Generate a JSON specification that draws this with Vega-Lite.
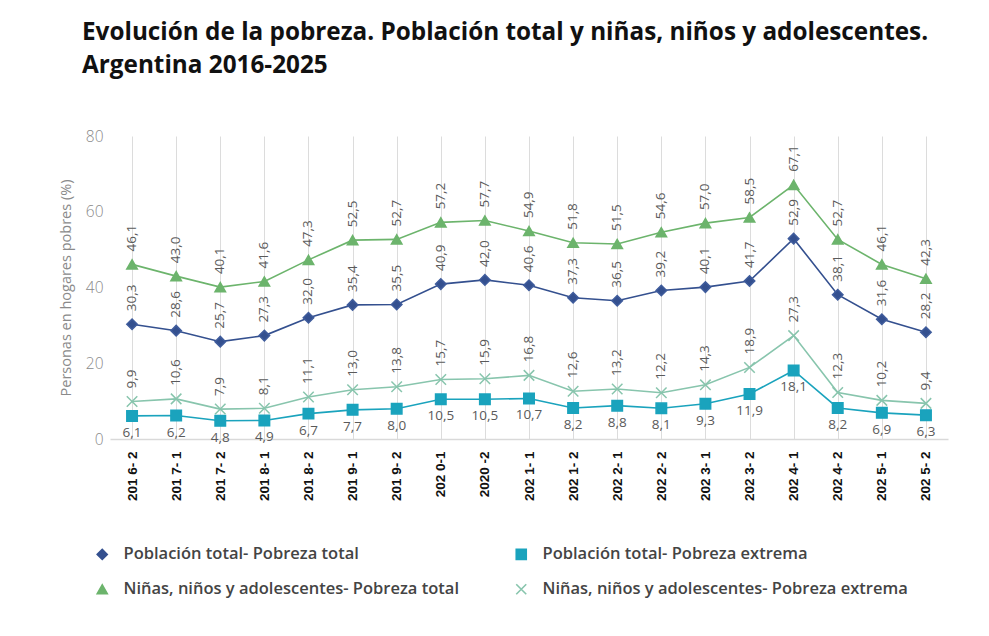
{
  "$schema": "https://vega.github.io/schema/vega-lite/v6.json",
  "width": 838,
  "height": 303,
  "autosize": {"type": "none"},
  "padding": {"left": 110, "top": 136, "right": 41, "bottom": 197},
  "background": "white",
  "title": {
    "text": ["Evolución de la pobreza. Población total y niñas, niños y adolescentes.", "Argentina 2016-2025"],
    "anchor": "start",
    "frame": "group",
    "dx": -28,
    "offset": 51,
    "font": "Open Sans",
    "fontSize": 24.3,
    "fontWeight": "bold",
    "lineHeight": 33,
    "color": "#111111"
  },
  "config": {
    "view": {"stroke": null},
    "locale": {"number": {"decimal": ",", "thousands": ".", "grouping": [3], "currency": ["$", ""]}},
    "legend": {
      "title": null,
      "orient": "none",
      "legendX": -16,
      "legendY": 410,
      "direction": "horizontal",
      "columns": 2,
      "columnPadding": 53,
      "rowPadding": 18,
      "padding": 0,
      "symbolSize": 100,
      "symbolStrokeWidth": 1.6,
      "labelOffset": 13,
      "labelFont": "Open Sans",
      "labelFontSize": 16.5,
      "labelFontWeight": 600,
      "labelColor": "#444444",
      "labelLimit": 500
    }
  },
  "datasets": {
    "pobreza": [
      {"periodo": "201 6- 2", "serie": "Población total- Pobreza total", "valor": 30.3},
      {"periodo": "201 7- 1", "serie": "Población total- Pobreza total", "valor": 28.6},
      {"periodo": "201 7- 2", "serie": "Población total- Pobreza total", "valor": 25.7},
      {"periodo": "201 8- 1", "serie": "Población total- Pobreza total", "valor": 27.3},
      {"periodo": "201 8- 2", "serie": "Población total- Pobreza total", "valor": 32.0},
      {"periodo": "201 9- 1", "serie": "Población total- Pobreza total", "valor": 35.4},
      {"periodo": "201 9- 2", "serie": "Población total- Pobreza total", "valor": 35.5},
      {"periodo": "202 0-1", "serie": "Población total- Pobreza total", "valor": 40.9},
      {"periodo": "2020 -2", "serie": "Población total- Pobreza total", "valor": 42.0},
      {"periodo": "202 1- 1", "serie": "Población total- Pobreza total", "valor": 40.6},
      {"periodo": "202 1- 2", "serie": "Población total- Pobreza total", "valor": 37.3},
      {"periodo": "202 2- 1", "serie": "Población total- Pobreza total", "valor": 36.5},
      {"periodo": "202 2- 2", "serie": "Población total- Pobreza total", "valor": 39.2},
      {"periodo": "202 3- 1", "serie": "Población total- Pobreza total", "valor": 40.1},
      {"periodo": "202 3- 2", "serie": "Población total- Pobreza total", "valor": 41.7},
      {"periodo": "202 4- 1", "serie": "Población total- Pobreza total", "valor": 52.9},
      {"periodo": "202 4- 2", "serie": "Población total- Pobreza total", "valor": 38.1},
      {"periodo": "202 5- 1", "serie": "Población total- Pobreza total", "valor": 31.6},
      {"periodo": "202 5- 2", "serie": "Población total- Pobreza total", "valor": 28.2},
      {"periodo": "201 6- 2", "serie": "Población total- Pobreza extrema", "valor": 6.1},
      {"periodo": "201 7- 1", "serie": "Población total- Pobreza extrema", "valor": 6.2},
      {"periodo": "201 7- 2", "serie": "Población total- Pobreza extrema", "valor": 4.8},
      {"periodo": "201 8- 1", "serie": "Población total- Pobreza extrema", "valor": 4.9},
      {"periodo": "201 8- 2", "serie": "Población total- Pobreza extrema", "valor": 6.7},
      {"periodo": "201 9- 1", "serie": "Población total- Pobreza extrema", "valor": 7.7},
      {"periodo": "201 9- 2", "serie": "Población total- Pobreza extrema", "valor": 8.0},
      {"periodo": "202 0-1", "serie": "Población total- Pobreza extrema", "valor": 10.5},
      {"periodo": "2020 -2", "serie": "Población total- Pobreza extrema", "valor": 10.5},
      {"periodo": "202 1- 1", "serie": "Población total- Pobreza extrema", "valor": 10.7},
      {"periodo": "202 1- 2", "serie": "Población total- Pobreza extrema", "valor": 8.2},
      {"periodo": "202 2- 1", "serie": "Población total- Pobreza extrema", "valor": 8.8},
      {"periodo": "202 2- 2", "serie": "Población total- Pobreza extrema", "valor": 8.1},
      {"periodo": "202 3- 1", "serie": "Población total- Pobreza extrema", "valor": 9.3},
      {"periodo": "202 3- 2", "serie": "Población total- Pobreza extrema", "valor": 11.9},
      {"periodo": "202 4- 1", "serie": "Población total- Pobreza extrema", "valor": 18.1},
      {"periodo": "202 4- 2", "serie": "Población total- Pobreza extrema", "valor": 8.2},
      {"periodo": "202 5- 1", "serie": "Población total- Pobreza extrema", "valor": 6.9},
      {"periodo": "202 5- 2", "serie": "Población total- Pobreza extrema", "valor": 6.3},
      {"periodo": "201 6- 2", "serie": "Niñas, niños y adolescentes- Pobreza total", "valor": 46.1},
      {"periodo": "201 7- 1", "serie": "Niñas, niños y adolescentes- Pobreza total", "valor": 43.0},
      {"periodo": "201 7- 2", "serie": "Niñas, niños y adolescentes- Pobreza total", "valor": 40.1},
      {"periodo": "201 8- 1", "serie": "Niñas, niños y adolescentes- Pobreza total", "valor": 41.6},
      {"periodo": "201 8- 2", "serie": "Niñas, niños y adolescentes- Pobreza total", "valor": 47.3},
      {"periodo": "201 9- 1", "serie": "Niñas, niños y adolescentes- Pobreza total", "valor": 52.5},
      {"periodo": "201 9- 2", "serie": "Niñas, niños y adolescentes- Pobreza total", "valor": 52.7},
      {"periodo": "202 0-1", "serie": "Niñas, niños y adolescentes- Pobreza total", "valor": 57.2},
      {"periodo": "2020 -2", "serie": "Niñas, niños y adolescentes- Pobreza total", "valor": 57.7},
      {"periodo": "202 1- 1", "serie": "Niñas, niños y adolescentes- Pobreza total", "valor": 54.9},
      {"periodo": "202 1- 2", "serie": "Niñas, niños y adolescentes- Pobreza total", "valor": 51.8},
      {"periodo": "202 2- 1", "serie": "Niñas, niños y adolescentes- Pobreza total", "valor": 51.5},
      {"periodo": "202 2- 2", "serie": "Niñas, niños y adolescentes- Pobreza total", "valor": 54.6},
      {"periodo": "202 3- 1", "serie": "Niñas, niños y adolescentes- Pobreza total", "valor": 57.0},
      {"periodo": "202 3- 2", "serie": "Niñas, niños y adolescentes- Pobreza total", "valor": 58.5},
      {"periodo": "202 4- 1", "serie": "Niñas, niños y adolescentes- Pobreza total", "valor": 67.1},
      {"periodo": "202 4- 2", "serie": "Niñas, niños y adolescentes- Pobreza total", "valor": 52.7},
      {"periodo": "202 5- 1", "serie": "Niñas, niños y adolescentes- Pobreza total", "valor": 46.1},
      {"periodo": "202 5- 2", "serie": "Niñas, niños y adolescentes- Pobreza total", "valor": 42.3},
      {"periodo": "201 6- 2", "serie": "Niñas, niños y adolescentes- Pobreza extrema", "valor": 9.9},
      {"periodo": "201 7- 1", "serie": "Niñas, niños y adolescentes- Pobreza extrema", "valor": 10.6},
      {"periodo": "201 7- 2", "serie": "Niñas, niños y adolescentes- Pobreza extrema", "valor": 7.9},
      {"periodo": "201 8- 1", "serie": "Niñas, niños y adolescentes- Pobreza extrema", "valor": 8.1},
      {"periodo": "201 8- 2", "serie": "Niñas, niños y adolescentes- Pobreza extrema", "valor": 11.1},
      {"periodo": "201 9- 1", "serie": "Niñas, niños y adolescentes- Pobreza extrema", "valor": 13.0},
      {"periodo": "201 9- 2", "serie": "Niñas, niños y adolescentes- Pobreza extrema", "valor": 13.8},
      {"periodo": "202 0-1", "serie": "Niñas, niños y adolescentes- Pobreza extrema", "valor": 15.7},
      {"periodo": "2020 -2", "serie": "Niñas, niños y adolescentes- Pobreza extrema", "valor": 15.9},
      {"periodo": "202 1- 1", "serie": "Niñas, niños y adolescentes- Pobreza extrema", "valor": 16.8},
      {"periodo": "202 1- 2", "serie": "Niñas, niños y adolescentes- Pobreza extrema", "valor": 12.6},
      {"periodo": "202 2- 1", "serie": "Niñas, niños y adolescentes- Pobreza extrema", "valor": 13.2},
      {"periodo": "202 2- 2", "serie": "Niñas, niños y adolescentes- Pobreza extrema", "valor": 12.2},
      {"periodo": "202 3- 1", "serie": "Niñas, niños y adolescentes- Pobreza extrema", "valor": 14.3},
      {"periodo": "202 3- 2", "serie": "Niñas, niños y adolescentes- Pobreza extrema", "valor": 18.9},
      {"periodo": "202 4- 1", "serie": "Niñas, niños y adolescentes- Pobreza extrema", "valor": 27.3},
      {"periodo": "202 4- 2", "serie": "Niñas, niños y adolescentes- Pobreza extrema", "valor": 12.3},
      {"periodo": "202 5- 1", "serie": "Niñas, niños y adolescentes- Pobreza extrema", "valor": 10.2},
      {"periodo": "202 5- 2", "serie": "Niñas, niños y adolescentes- Pobreza extrema", "valor": 9.4}
    ]
  },
  "data": {"name": "pobreza"},
  "encoding": {
    "x": {
      "field": "periodo",
      "type": "ordinal",
      "sort": null,
      "scale": {"paddingInner": 0, "paddingOuter": 0},
      "axis": {
        "title": null,
        "labelAngle": 270,
        "labelFont": "Liberation Sans",
        "labelFontSize": 13.5,
        "labelFontWeight": "bold",
        "labelColor": "#111111",
        "labelPadding": 12,
        "ticks": false,
        "grid": true,
        "bandPosition": 0,
        "gridColor": "#dcdcdc",
        "gridWidth": 1,
        "domainColor": "#d9d9d9",
        "domainWidth": 1.5
      }
    },
    "y": {
      "field": "valor",
      "type": "quantitative",
      "scale": {"domain": [0, 80], "nice": false},
      "axis": {
        "title": "Personas en hogares pobres (%)",
        "titleFont": "Open Sans",
        "titleFontSize": 14.5,
        "titleFontWeight": "normal",
        "titleColor": "#8a8a8a",
        "titlePadding": 12,
        "values": [0, 20, 40, 60, 80],
        "labelFont": "Open Sans",
        "labelFontSize": 15.5,
        "labelFontWeight": 300,
        "labelColor": "#8a8a8a",
        "labelPadding": 7,
        "ticks": false,
        "domain": false,
        "grid": false
      }
    }
  },
  "layer": [
    {
      "mark": {"type": "line", "strokeWidth": 1.6},
      "encoding": {
        "color": {
          "field": "serie",
          "type": "nominal",
          "scale": {
            "domain": ["Población total- Pobreza total", "Población total- Pobreza extrema", "Niñas, niños y adolescentes- Pobreza total", "Niñas, niños y adolescentes- Pobreza extrema"],
            "range": ["#34508f", "#1aa3bd", "#6cb46c", "#88c5ad"]
          },
          "legend": {"title": null}
        }
      }
    },
    {
      "mark": {"type": "point", "filled": true, "size": 110, "opacity": 1, "strokeWidth": 1.5},
      "encoding": {
        "color": {"field": "serie", "type": "nominal", "legend": {"title": null}},
        "shape": {
          "field": "serie",
          "type": "nominal",
          "scale": {
            "domain": ["Población total- Pobreza total", "Población total- Pobreza extrema", "Niñas, niños y adolescentes- Pobreza total", "Niñas, niños y adolescentes- Pobreza extrema"],
            "range": ["diamond", "square", "triangle-up", "M-1,-1L1,1M-1,1L1,-1"]
          },
          "legend": {"title": null}
        },
        "stroke": {
          "field": "serie",
          "type": "nominal",
          "scale": {
            "domain": ["Población total- Pobreza total", "Población total- Pobreza extrema", "Niñas, niños y adolescentes- Pobreza total", "Niñas, niños y adolescentes- Pobreza extrema"],
            "range": ["#3f5c9c", "#1aa3bd", "#6cb46c", "#88c5ad"]
          },
          "legend": {"title": null}
        }
      }
    },
    {
      "transform": [{"filter": "datum.serie !== 'Población total- Pobreza extrema'"}],
      "mark": {"type": "text", "angle": 270, "align": "left", "baseline": "middle", "dx": 13, "font": "Open Sans", "fontSize": 13.5, "color": "#5a5a5a"},
      "encoding": {
        "text": {"field": "valor", "type": "quantitative", "format": ".1f"}
      }
    },
    {
      "transform": [{"filter": "datum.serie === 'Población total- Pobreza extrema'"}],
      "mark": {"type": "text", "align": "center", "baseline": "middle", "dy": 17, "font": "Open Sans", "fontSize": 13.5, "color": "#5a5a5a"},
      "encoding": {
        "text": {"field": "valor", "type": "quantitative", "format": ".1f"}
      }
    }
  ]
}
